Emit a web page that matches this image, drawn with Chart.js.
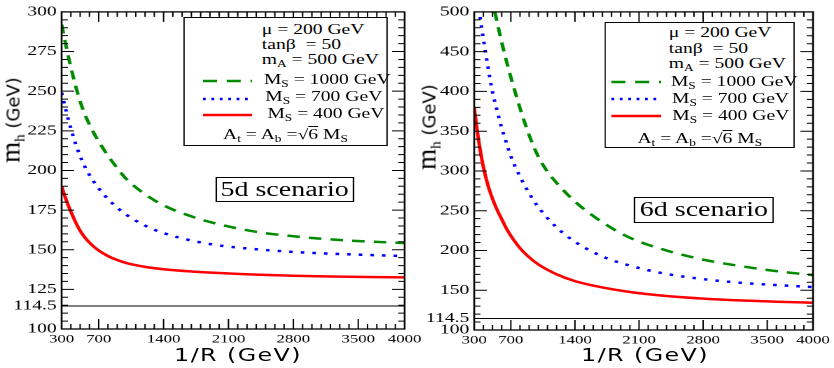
<!DOCTYPE html>
<html>
<head>
<meta charset="utf-8">
<script src="https://cdn.jsdelivr.net/npm/chart.js@4.4.1/dist/chart.umd.min.js"></script>
<style>
  html, body { margin: 0; padding: 0; background: #fff; }
  #page { position: relative; width: 834px; height: 368px; overflow: hidden; background: #fff; }
  /* the original figure is stretched sideways, so each panel is drawn narrow and scaled */
  .panel { position: absolute; top: 0; height: 368px; transform-origin: 0 0; transform: scaleX(1.4); }
  .panel canvas { position: absolute; left: 0; top: 0; }
  .box { position: absolute; border: 1.4px solid #000; background: #fff; box-sizing: border-box; }
  .txt { position: absolute; font-family: 'Liberation Serif', 'DejaVu Serif', serif; font-size: 14px; line-height: 14px; white-space: nowrap; color: #000; }
  .txt sub { font-size: 9.5px; vertical-align: -3px; line-height: 0; }
  .ov { text-decoration: overline; }
  .smp { position: absolute; overflow: visible; }
  .scen { font-family: 'Liberation Serif', serif; font-size: 20px; line-height: 22px; text-align: center; color: #000; }
  .xt { position: absolute; transform: translateX(-50%); font-family: 'DejaVu Sans', sans-serif; font-size: 17px; letter-spacing: 1px; white-space: nowrap; color: #000; line-height: 20px; }
  .yt { position: absolute; transform: translate(-50%, -50%) rotate(-90deg); font-family: 'DejaVu Sans', sans-serif; font-size: 18px; white-space: nowrap; color: #000; line-height: 20px; }
  .yt .m { font-family: 'Liberation Serif', serif; font-size: 27px; }
  .yt sub { font-size: 15px; vertical-align: -5px; line-height: 0; }
</style>
</head>
<body>
<div id="page">
  <div class="panel" style="left:0;width:310px;">
    <canvas id="chart5d" width="310" height="368"></canvas>

    <div class="box" style="left:130.7px;top:17px;width:146.4px;height:129px;"></div>
    <div class="txt" style="left:187px;top:23px;">μ = 200 GeV</div>
    <div class="txt" style="left:187px;top:38px;">tanβ&nbsp; = 50</div>
    <div class="txt" style="left:187px;top:52.5px;">m<sub>A</sub> = 500 GeV</div>
    <svg class="smp" style="left:145px;top:78px;" width="35" height="6"><line x1="0" y1="3" x2="35" y2="3" stroke="#008b00" stroke-width="2.5" stroke-dasharray="10 7"/></svg>
    <div class="txt" style="left:188.5px;top:73px;">M<sub>S</sub> = 1000 GeV</div>
    <svg class="smp" style="left:145px;top:95.5px;" width="35" height="6"><line x1="0" y1="3" x2="35" y2="3" stroke="#0000ff" stroke-width="2.5" stroke-dasharray="2 4"/></svg>
    <div class="txt" style="left:189.5px;top:90px;">M<sub>S</sub> = 700 GeV</div>
    <svg class="smp" style="left:145px;top:111.5px;" width="35" height="6"><line x1="0" y1="3" x2="35" y2="3" stroke="#ff0000" stroke-width="2.5"/></svg>
    <div class="txt" style="left:191px;top:107px;">M<sub>S</sub> = 400 GeV</div>
    <div class="txt" style="left:130.7px;width:146.4px;text-align:center;top:128px;">A<sub>t</sub> = A<sub>b</sub> =√<span class="ov">6</span> M<sub>S</sub></div>

    <div class="box scen" style="left:153.6px;top:177px;width:99.3px;height:25px;">5d scenario</div>
    <div class="xt" style="left:170px;top:345px;">1/R (GeV)</div>
  </div>

  <div class="panel" style="left:414px;width:300px;">
    <canvas id="chart6d" width="300" height="368"></canvas>

    <div class="box" style="left:136.2px;top:22px;width:135.9px;height:126px;"></div>
    <div class="txt" style="left:182px;top:26px;">μ = 200 GeV</div>
    <div class="txt" style="left:182px;top:42px;">tanβ&nbsp; = 50</div>
    <div class="txt" style="left:182px;top:56.5px;">m<sub>A</sub> = 500 GeV</div>
    <svg class="smp" style="left:141.4px;top:79px;" width="35.5" height="6"><line x1="0" y1="3" x2="35.5" y2="3" stroke="#008b00" stroke-width="2.5" stroke-dasharray="10 7"/></svg>
    <div class="txt" style="left:183.5px;top:75px;">M<sub>S</sub> = 1000 GeV</div>
    <svg class="smp" style="left:141.4px;top:96px;" width="35.5" height="6"><line x1="0" y1="3" x2="35.5" y2="3" stroke="#0000ff" stroke-width="2.5" stroke-dasharray="2 4"/></svg>
    <div class="txt" style="left:184.3px;top:92px;">M<sub>S</sub> = 700 GeV</div>
    <svg class="smp" style="left:141.4px;top:113px;" width="35.5" height="6"><line x1="0" y1="3" x2="35.5" y2="3" stroke="#ff0000" stroke-width="2.5"/></svg>
    <div class="txt" style="left:184.5px;top:109px;">M<sub>S</sub> = 400 GeV</div>
    <div class="txt" style="left:136.2px;width:135.9px;text-align:center;top:132px;">A<sub>t</sub> = A<sub>b</sub> =√<span class="ov">6</span> M<sub>S</sub></div>

    <div class="box scen" style="left:157.1px;top:197px;width:100px;height:26px;">6d scenario</div>
    <div class="xt" style="left:165px;top:345px;">1/R (GeV)</div>
  </div>

  <div class="yt" style="left:12px;top:120px;"><span class="m">m<sub>h</sub></span> (GeV)</div>
  <div class="yt" style="left:428px;top:127px;"><span class="m">m<sub>h</sub></span> (GeV)</div>
</div>

<script>
//===============
//=====DATA======
//===============

// 5d scenario, m_h (GeV) against 1/R (GeV)
const invR5 = [300, 325, 350, 375, 400, 450, 500, 550, 600, 650, 700, 800, 900, 1000, 1200, 1400, 1700, 2000, 2400, 2800, 3200, 3600, 4000];
const mh5Ms1000 = [292, 285, 278, 271.3, 265, 253.5, 243.5, 235.5, 229, 223.3, 218.3, 209.3, 201.5, 194.5, 185, 178, 171, 166, 161.3, 158.5, 156.5, 155.2, 154.2];
const mh5Ms700 = [249, 243, 237.3, 231.7, 226.5, 217, 209, 202.5, 197.2, 192.7, 188.7, 182, 176.5, 172, 165.2, 160.5, 155.8, 152.7, 150.3, 148.6, 147.5, 146.7, 146];
const mh5Ms400 = [190, 185.5, 181.3, 177.5, 174, 167.5, 162, 157.8, 154.5, 151.8, 149.5, 146, 143.5, 141.6, 139.2, 137.7, 136.3, 135.3, 134.3, 133.6, 133.1, 132.8, 132.6];

// 6d scenario, the curves leave the frame at the top so each has its own 1/R list
const invR6Ms1000 = [525, 550, 600, 650, 700, 800, 900, 1000, 1100, 1200, 1400, 1700, 2000, 2400, 2800, 3200, 3600, 4000];
const mh6Ms1000 = [500, 487, 462, 439, 418, 379, 345, 318, 299, 285, 261.5, 235.5, 216, 200, 188.5, 180.5, 174, 169];
const invR6Ms700 = [350, 375, 400, 450, 500, 550, 600, 650, 700, 800, 900, 1000, 1200, 1400, 1700, 2000, 2400, 2800, 3200, 3600, 4000];
const mh6Ms700 = [504, 485, 466, 431, 399, 376, 354, 336, 318.5, 293, 272, 254.5, 229, 211, 192.5, 181, 170.5, 164, 159.5, 156.5, 154];
const invR6Ms400 = [300, 325, 350, 375, 400, 450, 500, 550, 600, 650, 700, 800, 900, 1000, 1200, 1400, 1700, 2000, 2400, 2800, 3200, 3600, 4000];
const mh6Ms400 = [380, 357, 337, 320, 305, 282, 265, 251, 239.5, 228, 218.5, 203, 191.5, 182.5, 170, 161.5, 153.5, 147.8, 142.8, 139.5, 137.2, 135.6, 134.3];

// LEP bound line
const lepLimit = 114.5;
const invRRange = [300, 4000];

// tick labels
const xTickLabels = [300, 700, 1400, 2100, 2800, 3500, 4000];
const yTickLabels5 = [100, 114.5, 125, 150, 175, 200, 225, 250, 275, 300];
const yTickLabels6 = [100, 114.5, 150, 200, 250, 300, 350, 400, 450, 500];

//===============
//===HELPERS=====
//===============

function points(xs, ys) {
    return xs.map((x, i) => ({ x: x, y: ys[i] }));
}

function curve(data, color, dash) {
    return {
        data: data,
        borderColor: color,
        borderWidth: 2.5,
        borderDash: dash,
        pointRadius: 0,
        fill: false,
        cubicInterpolationMode: 'monotone'
    };
}

function lepLine() {
    return {
        data: points(invRRange, invRRange.map(() => lepLimit)),
        borderColor: '#000',
        borderWidth: 1,
        pointRadius: 0,
        fill: false
    };
}

// ticks pointing inwards on all four sides, plus the frame
const innerTicks = {
    id: 'innerTicks',
    afterDatasetsDraw(chart, args, opts) {
        const { ctx, chartArea, scales } = chart;
        const { left, right, top, bottom } = chartArea;
        ctx.save();
        ctx.strokeStyle = '#000';
        ctx.lineWidth = 1;
        ctx.beginPath();
        for (let v = 400; v < 4000; v += 100) {
            const px = scales.x.getPixelForValue(v);
            const len = v % 700 === 0 ? 10 : 5;
            ctx.moveTo(px, bottom);
            ctx.lineTo(px, bottom - len);
            ctx.moveTo(px, top);
            ctx.lineTo(px, top + len);
        }
        for (let v = 100 + opts.yMinor; v < opts.yMax; v += opts.yMinor) {
            const py = scales.y.getPixelForValue(v);
            const len = (v - 100) % opts.yMajor === 0 ? 9 : 4.5;
            ctx.moveTo(left, py);
            ctx.lineTo(left + len, py);
            ctx.moveTo(right, py);
            ctx.lineTo(right - len, py);
        }
        ctx.stroke();
        ctx.lineWidth = 1.3;
        ctx.strokeRect(left, top, right - left, bottom - top);
        ctx.restore();
    }
};

function makeChart(id, datasets, cfg) {
    const ctx = document.getElementById(id);
    return new Chart(ctx, {
        type: 'line',
        data: { datasets: datasets },
        options: {
            responsive: false,
            animation: false,
            devicePixelRatio: 2,
            events: [],
            layout: { padding: { top: 5, right: cfg.padRight, left: 0, bottom: 0 } },
            plugins: {
                legend: { display: false },
                tooltip: { enabled: false },
                innerTicks: { yMax: cfg.yMax, yMajor: cfg.yMajor, yMinor: cfg.yMinor }
            },
            scales: {
                x: {
                    type: 'linear',
                    min: 300,
                    max: 4000,
                    afterBuildTicks: s => { s.ticks = xTickLabels.map(v => ({ value: v })); },
                    afterFit: s => { s.height = cfg.xHeight; },
                    grid: { display: false, drawTicks: false },
                    border: { display: false },
                    ticks: {
                        autoSkip: false,
                        maxRotation: 0,
                        padding: 3,
                        color: '#000',
                        font: { family: "'Liberation Serif', serif", size: 12 },
                        callback: v => String(v)
                    }
                },
                y: {
                    type: 'linear',
                    min: 100,
                    max: cfg.yMax,
                    afterBuildTicks: s => { s.ticks = cfg.yTicks.map(v => ({ value: v })); },
                    afterFit: s => { s.width = cfg.yWidth; },
                    grid: { display: false, drawTicks: false },
                    border: { display: false },
                    ticks: {
                        autoSkip: false,
                        padding: 3.5,
                        color: '#000',
                        font: { family: "'Liberation Serif', serif", size: 14 },
                        callback: v => String(v)
                    }
                }
            }
        },
        plugins: [innerTicks]
    });
}

//===============
//====CHARTS=====
//===============

makeChart('chart5d', [
    lepLine(),
    curve(points(invR5, mh5Ms400), '#ff0000', []),
    curve(points(invR5, mh5Ms700), '#0000ff', [2.5, 5.8]),
    curve(points(invR5, mh5Ms1000), '#008b00', [9, 6.5])
], { yMax: 300, yMajor: 25, yMinor: 5, yTicks: yTickLabels5, yWidth: 44, xHeight: 39, padRight: 21 });

makeChart('chart6d', [
    lepLine(),
    curve(points(invR6Ms400, mh6Ms400), '#ff0000', []),
    curve(points(invR6Ms700, mh6Ms700), '#0000ff', [2.5, 5.8]),
    curve(points(invR6Ms1000, mh6Ms1000), '#008b00', [9, 6.5])
], { yMax: 500, yMajor: 50, yMinor: 10, yTicks: yTickLabels6, yWidth: 43, xHeight: 38, padRight: 14 });
</script>
</body>
</html>
